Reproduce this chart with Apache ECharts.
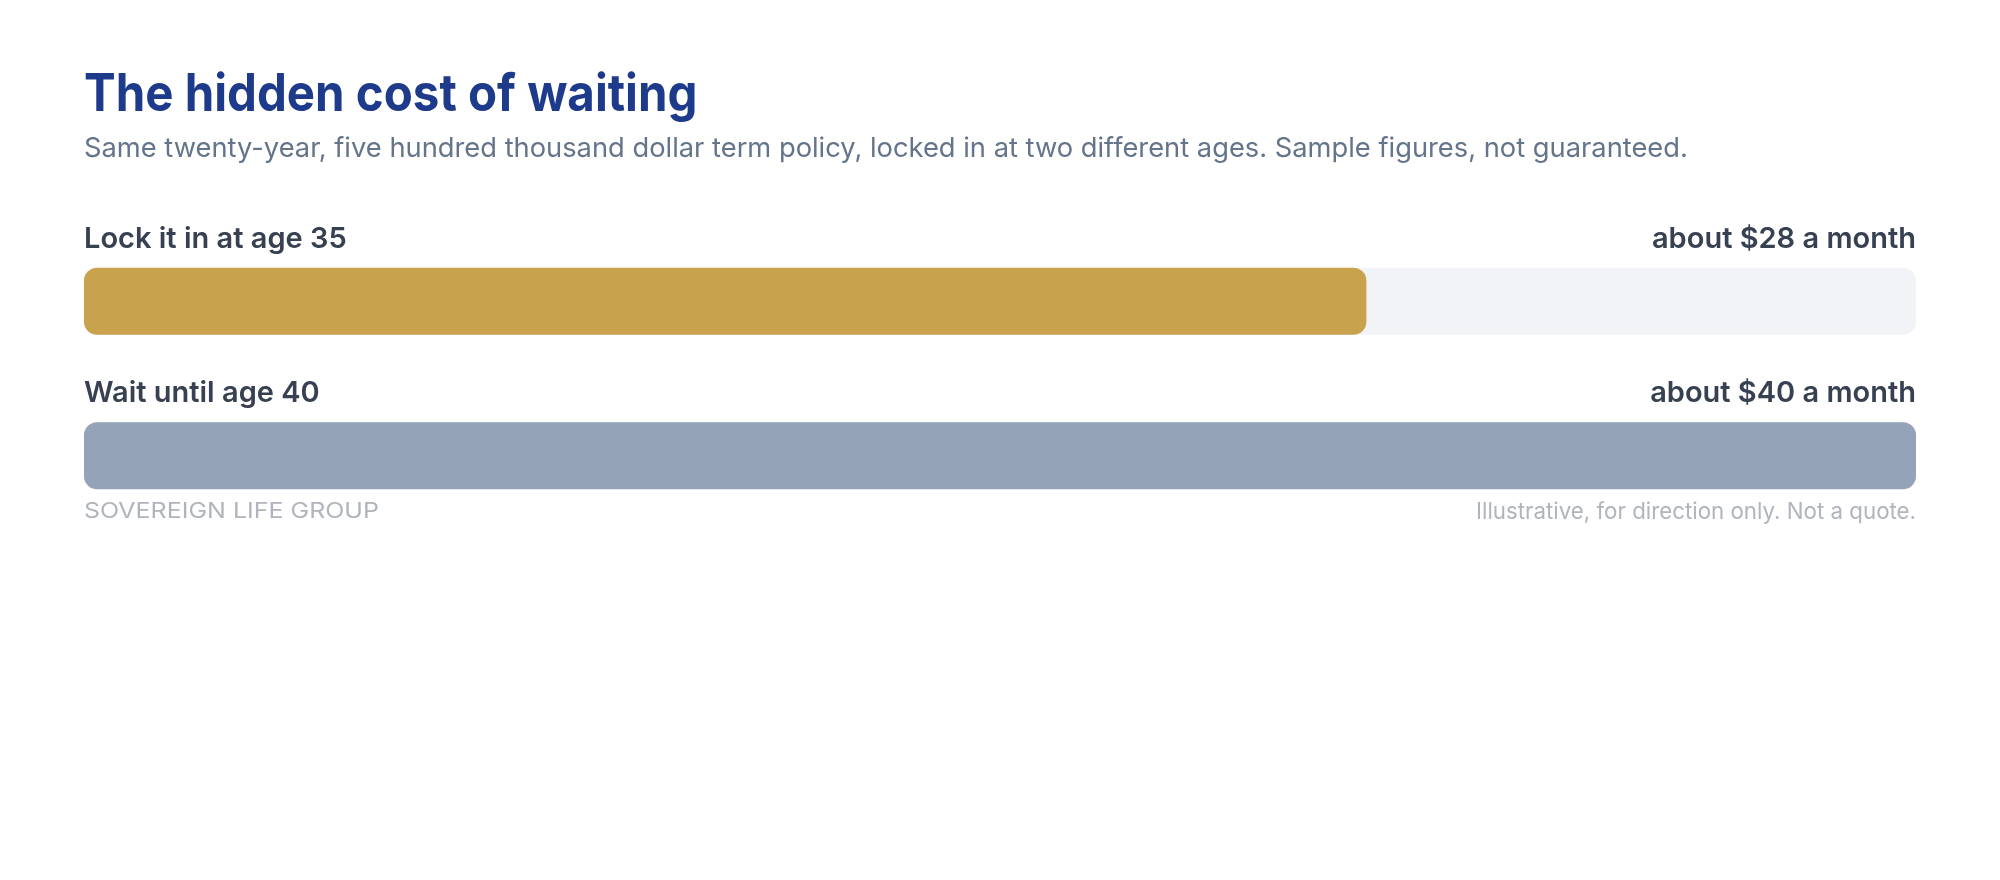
<!DOCTYPE html>
<html>
<head>
<meta charset="utf-8">
<script src="https://cdn.jsdelivr.net/npm/echarts@6/dist/echarts.min.js"></script>
<style>
  html, body { margin: 0; padding: 0; background: #fff; }
  #chart { width: 2000px; height: 880px; }
</style>
</head>
<body>
<div id="chart"></div>
<script>
// data
const categories = ['Lock it in at age 35', 'Wait until age 40']
const monthlyCost = [28, 40]
const barColors = ['#c9a24d', '#94a3b8']
const axisMax = 40

const chart = echarts.init(document.getElementById('chart'))

const FONT = 'Inter, "Noto Sans", sans-serif'
const LEFT = 84
const RIGHT = 1916

const option = {
  animation: false,
  grid: { left: LEFT, right: 2000 - RIGHT, top: 224, height: 309 },
  xAxis: { type: 'value', min: 0, max: axisMax, show: false },
  yAxis: { type: 'category', data: categories, inverse: true, show: false },
  graphic: [
    {
      // title is tighter than Inter, squeeze it a bit
      type: 'text', left: LEFT, top: 69, scaleX: 0.912,
      style: { text: 'The hidden cost of waiting', fill: '#1e3a8a', font: '700 52px ' + FONT }
    },
    {
      type: 'text', left: LEFT, top: 135,
      style: {
        text: 'Same twenty-year, five hundred thousand dollar term policy, locked in at two different ages. Sample figures, not guaranteed.',
        fill: '#64748b', font: '400 27.3px ' + FONT
      }
    },
    {
      // letter-spaced brand line
      type: 'text', left: LEFT, top: 501, scaleX: 1.19,
      style: { text: 'SOVEREIGN LIFE GROUP', fill: '#b0b4bb', font: '400 21px ' + FONT }
    },
    {
      type: 'text', right: 2000 - RIGHT, top: 501,
      style: { text: 'Illustrative, for direction only. Not a quote.', fill: '#b0b4bb', font: '400 22.3px ' + FONT }
    }
  ],
  series: [
    {
      // full-width track, carries the row labels
      type: 'bar',
      silent: true,
      barWidth: 67,
      data: categories.map(() => axisMax),
      itemStyle: { color: '#f1f3f6', borderRadius: 13 },
      label: {
        show: true,
        position: [0, -14],
        align: 'left',
        verticalAlign: 'bottom',
        color: '#374151',
        fontFamily: FONT,
        fontWeight: 600,
        fontSize: 29,
        formatter: (p) => p.name
      },
      z: 1
    },
    {
      type: 'bar',
      silent: true,
      barWidth: 67,
      barGap: '-100%',
      data: monthlyCost.map((v, i) => ({ value: v, itemStyle: { color: barColors[i] } })),
      itemStyle: { borderRadius: 13 },
      z: 2
    },
    {
      // invisible overlay used for the right-hand price labels
      type: 'bar',
      silent: true,
      barWidth: 67,
      barGap: '-100%',
      data: categories.map(() => axisMax),
      itemStyle: { color: 'rgba(0,0,0,0)' },
      label: {
        show: true,
        position: ['100%', -14],
        align: 'right',
        verticalAlign: 'bottom',
        color: '#374151',
        fontFamily: FONT,
        fontWeight: 600,
        fontSize: 29,
        formatter: (p) => 'about $' + monthlyCost[p.dataIndex] + ' a month'
      },
      z: 3
    }
  ]
}

chart.setOption(option)
</script>
</body>
</html>
